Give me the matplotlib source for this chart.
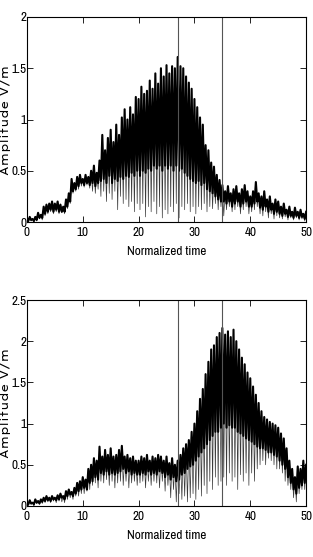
#Field amplitude vs normalized time, two records
import numpy as np
import matplotlib
matplotlib.use('Agg')
import matplotlib.pyplot as plt
from matplotlib import font_manager
from matplotlib.ticker import FormatStrFormatter

# sample grid (normalized time, every 0.5)
time = np.arange(0, 50.5, 0.5)

# marker lines
marker_times = [27, 35]

# top panel: spike tops, lower edge of the dense band, deepest troughs
upper1 = [0.04, 0.05, 0.03, 0.05, 0.09, 0.07, 0.15, 0.17, 0.18, 0.2,
          0.18, 0.2, 0.17, 0.15, 0.22, 0.28, 0.42, 0.38, 0.44, 0.46,
          0.42, 0.46, 0.44, 0.5, 0.55, 0.48, 0.6, 0.85, 0.7, 0.82,
          0.9, 0.78, 0.95, 0.85, 1.02, 1.1, 1.0, 1.12, 1.05, 1.22,
          1.2, 1.32, 1.25, 1.28, 1.38, 1.3, 1.45, 1.35, 1.5, 1.42,
          1.53, 1.45, 1.52, 1.5, 1.61, 1.52, 1.5, 1.42, 1.36, 1.3,
          1.2, 1.12, 1.02, 0.95, 0.75, 0.7, 0.58, 0.54, 0.46, 0.41,
          0.36, 0.3, 0.35, 0.28, 0.32, 0.35, 0.28, 0.32, 0.36, 0.3,
          0.25, 0.3, 0.39, 0.28, 0.25, 0.3, 0.22, 0.25, 0.18, 0.22,
          0.2, 0.15, 0.18, 0.12, 0.15, 0.1, 0.14, 0.1, 0.12, 0.08,
          0.1]
core1 = [0.01, 0.02, 0.01, 0.02, 0.04, 0.04, 0.08, 0.1, 0.12, 0.1,
         0.12, 0.1, 0.1, 0.1, 0.15, 0.2, 0.3, 0.32, 0.35, 0.38,
         0.36, 0.38, 0.36, 0.38, 0.35, 0.38, 0.4, 0.42, 0.38, 0.45,
         0.38, 0.42, 0.4, 0.44, 0.42, 0.45, 0.44, 0.48, 0.45, 0.5,
         0.45, 0.5, 0.48, 0.52, 0.5, 0.55, 0.52, 0.55, 0.5, 0.55,
         0.52, 0.55, 0.5, 0.55, 0.5, 0.52, 0.48, 0.45, 0.42, 0.4,
         0.38, 0.4, 0.36, 0.38, 0.32, 0.3, 0.28, 0.25, 0.22, 0.2,
         0.2, 0.18, 0.2, 0.15, 0.18, 0.2, 0.15, 0.18, 0.2, 0.15,
         0.15, 0.18, 0.2, 0.14, 0.12, 0.15, 0.1, 0.12, 0.08, 0.1,
         0.08, 0.06, 0.08, 0.05, 0.06, 0.04, 0.06, 0.04, 0.05, 0.03,
         0.05]
trough1 = [0.0, 0.01, 0.0, 0.01, 0.03, 0.02, 0.06, 0.08, 0.1, 0.08,
           0.1, 0.08, 0.09, 0.08, 0.13, 0.18, 0.28, 0.3, 0.32, 0.35,
           0.34, 0.36, 0.33, 0.3, 0.28, 0.32, 0.25, 0.3, 0.2, 0.28,
           0.22, 0.3, 0.12, 0.25, 0.18, 0.22, 0.15, 0.2, 0.1, 0.18,
           0.12, 0.18, 0.05, 0.15, 0.1, 0.2, 0.08, 0.15, 0.04, 0.12,
           0.08, 0.15, 0.1, 0.18, 0.04, 0.15, 0.12, 0.18, 0.1, 0.15,
           0.08, 0.15, 0.12, 0.18, 0.1, 0.15, 0.13, 0.18, 0.12, 0.15,
           0.06, 0.12, 0.15, 0.1, 0.12, 0.15, 0.08, 0.12, 0.15, 0.08,
           0.1, 0.12, 0.15, 0.08, 0.06, 0.1, 0.04, 0.08, 0.03, 0.06,
           0.04, 0.03, 0.05, 0.02, 0.04, 0.02, 0.04, 0.02, 0.03, 0.01,
           0.03]

# bottom panel
upper2 = [0.05, 0.07, 0.04, 0.08, 0.06, 0.08, 0.1, 0.12, 0.1, 0.12,
          0.1, 0.13, 0.15, 0.12, 0.18, 0.2, 0.17, 0.22, 0.28, 0.3,
          0.35, 0.32, 0.45, 0.5, 0.58, 0.55, 0.72, 0.6, 0.68, 0.62,
          0.7, 0.6, 0.62, 0.68, 0.73, 0.6, 0.62, 0.58, 0.6, 0.55,
          0.55, 0.6, 0.58, 0.62, 0.55, 0.6, 0.58, 0.62, 0.6, 0.55,
          0.6, 0.52, 0.58, 0.5, 0.55, 0.62, 0.7, 0.75, 0.8, 0.9,
          1.0, 1.15, 1.3, 1.42, 1.6, 1.75, 1.9, 1.95, 2.05, 2.1,
          2.16, 2.08, 2.12, 2.05, 2.14, 2.0, 1.9, 1.8, 1.72, 1.62,
          1.55, 1.45, 1.35, 1.25, 1.15, 1.08, 1.05, 1.02, 1.0, 0.98,
          0.95, 0.88, 0.82, 0.7, 0.55, 0.45, 0.35, 0.48, 0.45, 0.55,
          0.5]
core2 = [0.02, 0.03, 0.02, 0.04, 0.03, 0.05, 0.06, 0.07, 0.06, 0.08,
         0.07, 0.08, 0.1, 0.08, 0.12, 0.14, 0.12, 0.15, 0.18, 0.2,
         0.22, 0.2, 0.28, 0.3, 0.35, 0.32, 0.4, 0.38, 0.42, 0.38,
         0.4, 0.38, 0.4, 0.42, 0.45, 0.4, 0.42, 0.38, 0.4, 0.38,
         0.38, 0.4, 0.38, 0.42, 0.38, 0.4, 0.38, 0.42, 0.4, 0.35,
         0.38, 0.32, 0.35, 0.3, 0.32, 0.38, 0.4, 0.45, 0.48, 0.5,
         0.55, 0.6, 0.65, 0.7, 0.75, 0.8, 0.85, 0.9, 0.9, 0.95,
         1.0, 0.95, 0.98, 0.95, 0.95, 0.9, 0.88, 0.85, 0.82, 0.8,
         0.78, 0.75, 0.72, 0.7, 0.7, 0.68, 0.65, 0.65, 0.62, 0.6,
         0.55, 0.5, 0.45, 0.35, 0.28, 0.2, 0.15, 0.22, 0.25, 0.28,
         0.3]
trough2 = [0.0, 0.02, 0.0, 0.03, 0.02, 0.03, 0.04, 0.05, 0.04, 0.06,
           0.04, 0.06, 0.05, 0.04, 0.08, 0.1, 0.08, 0.12, 0.12, 0.15,
           0.15, 0.18, 0.2, 0.25, 0.28, 0.22, 0.3, 0.28, 0.32, 0.25,
           0.3, 0.22, 0.28, 0.3, 0.25, 0.3, 0.22, 0.28, 0.3, 0.25,
           0.28, 0.3, 0.22, 0.3, 0.25, 0.3, 0.28, 0.22, 0.3, 0.18,
           0.25, 0.1, 0.2, 0.05, 0.15, 0.08, 0.12, 0.05, 0.1, 0.15,
           0.08, 0.2, 0.12, 0.25, 0.15, 0.3, 0.2, 0.35, 0.25, 0.3,
           0.35, 0.25, 0.4, 0.3, 0.35, 0.2, 0.38, 0.3, 0.4, 0.25,
           0.4, 0.3, 0.45, 0.5, 0.55, 0.5, 0.58, 0.55, 0.5, 0.45,
           0.45, 0.4, 0.3, 0.25, 0.2, 0.1, 0.05, 0.15, 0.2, 0.2,
           0.22]

x_ticks = [0, 10, 20, 30, 40, 50]
y_ticks1 = [0, 0.5, 1, 1.5, 2]
y_ticks2 = [0, 0.5, 1, 1.5, 2, 2.5]


# Function to return the first installed family from a list of candidates
def pick_font(candidates, fallback='DejaVu Sans'):
    have = set(f.name for f in font_manager.fontManager.ttflist)
    for name in candidates:
        if name in have:
            return name
    return fallback


narrow = pick_font(['Liberation Sans Narrow', 'Arial Narrow', 'Nimbus Sans Narrow',
                    'Archivo Narrow', 'PT Sans Narrow', 'Roboto Condensed',
                    'Encode Sans Condensed', 'Fira Sans Condensed',
                    'IBM Plex Sans Condensed', 'Open Sans Condensed',
                    'Barlow Condensed', 'Asap Condensed', 'Saira Condensed'])
wide = pick_font(['Lexend Giga', 'Lexend Exa', 'Lexend Mega', 'Krona One',
                  'Lexend Zetta', 'Michroma'])


# Function to turn peak / valley samples into one oscillating trace
def zigzag(t, top, bottom):
    t = np.asarray(t)
    xs = np.empty(2 * len(t) - 1)
    ys = np.empty(2 * len(t) - 1)
    xs[0::2] = t
    xs[1::2] = t[:-1] + (t[1] - t[0]) / 2
    ys[0::2] = top
    ys[1::2] = np.asarray(bottom)[:-1]
    return xs, ys


# Function to draw one panel
def draw_panel(ax, upper, core, trough, y_ticks):
    xs, ys = zigzag(time, upper, trough)
    ax.plot(xs, ys, color='#3a3a3a', lw=0.5)
    xs, ys = zigzag(time, upper, core)
    ax.plot(xs, ys, color='black', lw=1.5)
    for m in marker_times:
        ax.axvline(m, color='#555555', lw=0.8)
    ax.set_xlim(0, 50)
    ax.set_ylim(y_ticks[0], y_ticks[-1])
    ax.set_xticks(x_ticks)
    ax.set_yticks(y_ticks)
    ax.yaxis.set_major_formatter(FormatStrFormatter('%g'))
    ax.tick_params(direction='in', length=4, width=0.6, top=True, right=True,
                   labelsize=9.5)
    ax.tick_params(axis='x', pad=3.5)
    ax.tick_params(axis='y', pad=0.5)
    for lab in ax.get_xticklabels() + ax.get_yticklabels():
        lab.set_family(narrow)
    for s in ax.spines.values():
        s.set_linewidth(0.8)
    ax.set_xlabel('Normalized time', family=narrow, fontsize=9.5)
    ax.xaxis.set_label_coords(0.5, -0.115)
    ax.set_ylabel('Amplitude V/m', family=wide, fontsize=8)
    ax.yaxis.set_label_coords(-0.056, 0.5)


fig = plt.figure(figsize=(3.13, 5.57), dpi=100)
ax1 = fig.add_axes([0.086, 0.6014, 0.892, 0.3681])
ax2 = fig.add_axes([0.086, 0.0916, 0.892, 0.3698])
draw_panel(ax1, upper1, core1, trough1, y_ticks1)
draw_panel(ax2, upper2, core2, trough2, y_ticks2)
fig.savefig('out.png', dpi=100)
